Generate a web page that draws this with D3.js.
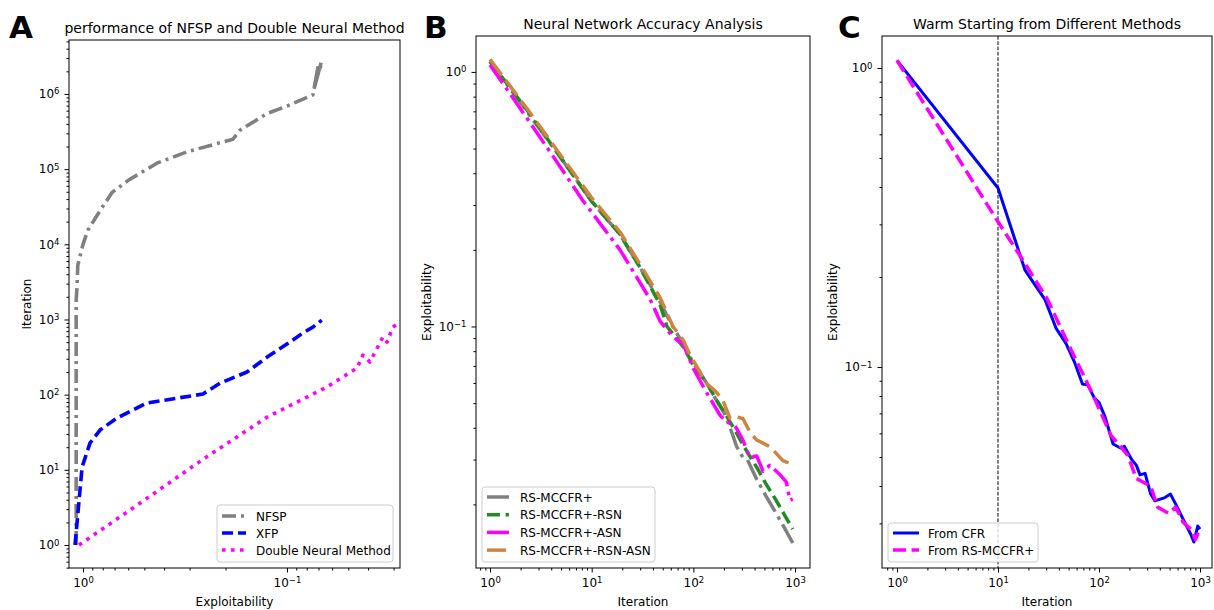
<!DOCTYPE html>
<html>
<head>
<meta charset="utf-8">
<script src="https://cdn.jsdelivr.net/npm/d3@7"></script>
<style>
body { margin: 0; background: #fff; }
text { font-family: "DejaVu Sans", sans-serif; fill: #000; }
</style>
</head>
<body>
<svg id="fig" width="1214" height="610"></svg>
<script>
// ---- panel A : exploitability (x) vs iteration (y)
var nfspExploit = [1.08, 1.08, 1.08, 1.08, 1.07, 1.06, 1.0, 0.945, 0.825, 0.72, 0.60, 0.434, 0.309, 0.184, 0.17, 0.125, 0.1, 0.0746,
                   0.0700, 0.0740, 0.0680, 0.0730, 0.0690, 0.0720, 0.0675];
var nfspIter = [1, 18, 390, 1800, 2700, 5300, 1.0e4, 1.55e4, 2.8e4, 4.9e4, 7.1e4, 1.2e5, 1.7e5, 2.5e5, 3.3e5, 5.5e5, 6.9e5, 9.7e5,
                2.5e6, 1.1e6, 2.6e6, 1.3e6, 2.4e6, 1.5e6, 2.6e6];
var xfpExploit = [1.094, 1.01, 0.924, 0.825, 0.681, 0.486, 0.258, 0.213, 0.157, 0.125, 0.0967, 0.0837, 0.0746, 0.0675];
var xfpIter = [1, 10.9, 22.7, 33.8, 48.9, 77.5, 102, 142, 200, 316, 500, 660, 790, 980];
var dnmExploit = [1.046, 0.569, 0.252, 0.125, 0.0638, 0.0453, 0.0424, 0.0392, 0.0338, 0.0323, 0.0302, 0.0285];
var dnmIter = [1, 3.1, 14.4, 50.3, 126, 226, 336, 272, 586, 500, 790, 890];

// ---- panel B : iteration vs exploitability
var bGrayIter = [1, 2.3, 4.6, 10, 19, 30, 47, 60, 80, 100, 135, 170, 200, 230, 267, 307, 340, 420, 520, 650, 800, 950];
var bGrayVal = [1.10, 0.70, 0.48, 0.31, 0.23, 0.17, 0.125, 0.103, 0.085, 0.072, 0.060, 0.051, 0.046, 0.040, 0.0337, 0.0306, 0.0300, 0.0251, 0.0215, 0.0185, 0.0160, 0.0141];
var bGreenIter = [1, 2.3, 4.6, 10, 19, 30, 47, 55, 80, 100, 135, 170, 220, 267, 340, 420, 520, 650, 800, 950];
var bGreenVal = [1.10, 0.71, 0.48, 0.31, 0.23, 0.17, 0.122, 0.10, 0.083, 0.0704, 0.060, 0.0512, 0.0435, 0.038, 0.032, 0.028, 0.024, 0.0208, 0.018, 0.016];
var bMagIter = [1, 2.3, 4.6, 8.2, 19, 37.5, 47, 59, 70, 79, 100, 135, 183, 214, 255, 307, 360, 420, 485, 565, 710, 820, 890, 950];
var bMagVal = [1.065, 0.66, 0.44, 0.312, 0.20, 0.128, 0.105, 0.094, 0.088, 0.0857, 0.0684, 0.055, 0.0448, 0.0421, 0.041, 0.0358, 0.0305, 0.031, 0.027, 0.0285, 0.0262, 0.0245, 0.0208, 0.021];
var bOrIter = [1, 2.3, 4.6, 10, 19, 30, 47, 63, 80, 93, 116, 125, 170, 195, 230, 270, 307, 360, 420, 485, 565, 650, 760, 890, 1000];
var bOrVal = [1.12, 0.72, 0.49, 0.32, 0.235, 0.175, 0.13, 0.10, 0.088, 0.077, 0.0664, 0.0614, 0.055, 0.0512, 0.0435, 0.044, 0.0435, 0.0385, 0.0358, 0.0348, 0.0337, 0.0318, 0.0297, 0.029, 0.0285];

// ---- panel C : warm start
var cCfrIter = [1, 10, 18.5, 29.2, 37.5, 47.1, 57.8, 68.6, 77.6, 90, 100, 115, 138, 163, 178, 212, 234, 255, 286, 325, 357, 450, 510, 575, 680, 810, 870, 950, 1000];
var cCfrVal = [1.06, 0.397, 0.211, 0.168, 0.135, 0.12, 0.103, 0.0877, 0.087, 0.0787, 0.0762, 0.068, 0.0553, 0.0536, 0.0543, 0.0489, 0.047, 0.0436, 0.0441, 0.0376, 0.0357, 0.0366, 0.0376, 0.0348, 0.031, 0.0276, 0.026, 0.0294, 0.0287];
var cRsIter = [1, 10, 16.9, 31, 53, 83, 131, 193, 234, 325, 380, 490, 575, 680, 810, 900, 1000];
var cRsVal = [1.06, 0.306, 0.233, 0.168, 0.114, 0.0837, 0.0592, 0.0507, 0.0424, 0.04, 0.034, 0.0324, 0.034, 0.0303, 0.0287, 0.0265, 0.0287];
var cWarmIter = 10;

var svg = d3.select("#fig");
svg.append("rect").attr("width", 1214).attr("height", 610).attr("fill", "#fff");

var supNum = function(v) {
  var e = Math.round(Math.log10(v));
  return e < 0 ? "\u2212" + (-e) : "" + e;
};

function minorTicks(dom) {
  var lo = Math.min(dom[0], dom[1]), hi = Math.max(dom[0], dom[1]);
  var out = [];
  for (var k = Math.floor(Math.log10(lo)); k <= Math.ceil(Math.log10(hi)); k++) {
    for (var m = 2; m < 10; m++) {
      var v = m * Math.pow(10, k);
      if (v >= lo && v <= hi) out.push(v);
    }
  }
  return out;
}

function powLabels(sel) {
  sel.selectAll(".tick text").each(function(d) {
    var t = d3.select(this).text(null);
    t.append("tspan").text("10");
    t.append("tspan").attr("dy", "-0.45em").attr("font-size", "8.5px").text(supNum(d));
  });
}

function drawPanel(p, idx) {
  var g = svg.append("g");
  var x = d3.scaleLog().domain(p.xDomain).range([p.left, p.right]);
  var y = d3.scaleLog().domain(p.yDomain).range([p.bottom, p.top]);

  g.append("clipPath").attr("id", "clip" + idx)
    .append("rect")
    .attr("x", p.left).attr("y", p.top)
    .attr("width", p.right - p.left).attr("height", p.bottom - p.top);

  // minor ticks
  g.append("g").attr("transform", "translate(0," + p.bottom + ")")
    .call(d3.axisBottom(x).tickValues(minorTicks(p.xDomain)).tickSize(2.5).tickFormat(""))
    .call(function(s) { s.select(".domain").remove(); });
  g.append("g").attr("transform", "translate(" + p.left + ",0)")
    .call(d3.axisLeft(y).tickValues(minorTicks(p.yDomain)).tickSize(2.5).tickFormat(""))
    .call(function(s) { s.select(".domain").remove(); });

  // major ticks
  var xa = g.append("g").attr("transform", "translate(0," + p.bottom + ")")
    .call(d3.axisBottom(x).tickValues(p.xTicks).tickSize(4.5).tickPadding(6))
    .call(function(s) { s.select(".domain").remove(); });
  xa.selectAll("text").attr("font-size", "12px").attr("font-family", "DejaVu Sans");
  powLabels(xa);
  var ya = g.append("g").attr("transform", "translate(" + p.left + ",0)")
    .call(d3.axisLeft(y).tickValues(p.yTicks).tickSize(4.5).tickPadding(5))
    .call(function(s) { s.select(".domain").remove(); });
  ya.selectAll("text").attr("font-size", "12px").attr("font-family", "DejaVu Sans");
  powLabels(ya);

  g.selectAll(".tick line").attr("stroke", "#000");

  // vertical marker line
  if (p.vline) {
    g.append("line")
      .attr("x1", x(p.vline)).attr("x2", x(p.vline))
      .attr("y1", p.top).attr("y2", p.bottom)
      .attr("stroke", "#000").attr("stroke-width", 1)
      .attr("stroke-dasharray", "3.7,1.6");
  }

  // series
  var line = d3.line().x(function(d) { return x(d[0]); }).y(function(d) { return y(d[1]); });
  p.series.forEach(function(s) {
    g.append("path")
      .datum(d3.zip(s.xs, s.ys))
      .attr("clip-path", "url(#clip" + idx + ")")
      .attr("d", line)
      .attr("fill", "none")
      .attr("stroke", s.color)
      .attr("stroke-width", s.width)
      .attr("stroke-dasharray", s.dash)
      .attr("stroke-linejoin", "round");
  });

  // frame
  g.append("rect")
    .attr("x", p.left).attr("y", p.top)
    .attr("width", p.right - p.left).attr("height", p.bottom - p.top)
    .attr("fill", "none").attr("stroke", "#000").attr("stroke-width", 1);

  // legend
  var lg = p.legend;
  g.append("rect")
    .attr("x", lg.x).attr("y", lg.y).attr("width", lg.w).attr("height", lg.h)
    .attr("rx", 3).attr("fill", "#fff").attr("fill-opacity", 0.8)
    .attr("stroke", "#ccc").attr("stroke-width", 1);
  p.series.forEach(function(s, i) {
    var cy = lg.y + lg.first + i * lg.step;
    g.append("line")
      .attr("x1", lg.x + lg.pad).attr("x2", lg.x + lg.pad + lg.len)
      .attr("y1", cy).attr("y2", cy)
      .attr("stroke", s.color).attr("stroke-width", s.width)
      .attr("stroke-dasharray", s.dash);
    g.append("text")
      .attr("x", lg.x + lg.pad + lg.len + lg.gap).attr("y", cy + 4.5)
      .attr("font-size", "12px")
      .text(s.name);
  });

  // titles and labels
  g.append("text")
    .attr("x", (p.left + p.right) / 2).attr("y", p.top - 7)
    .attr("text-anchor", "middle").attr("font-size", "14px")
    .text(p.title);
  g.append("text")
    .attr("x", (p.left + p.right) / 2).attr("y", 606)
    .attr("text-anchor", "middle").attr("font-size", "12px")
    .text(p.xLabel);
  g.append("text")
    .attr("transform", "translate(" + p.yLabelX + "," + ((p.top + p.bottom) / 2) + ") rotate(-90)")
    .attr("text-anchor", "middle").attr("font-size", "12px")
    .text(p.yLabel);
  g.append("text")
    .attr("x", p.letterX).attr("y", 38)
    .attr("font-family", "Liberation Sans, Arial, sans-serif")
    .attr("font-weight", "bold").attr("font-size", "31px")
    .text(p.letter);
}

var panels = [
  {
    letter: "A", letterX: 9,
    left: 69, right: 400, top: 40, bottom: 568,
    xDomain: [1.171, 0.0279], yDomain: [Math.pow(10, -0.306), Math.pow(10, 6.718)],
    xTicks: [1, 0.1], yTicks: [1, 10, 100, 1e3, 1e4, 1e5, 1e6],
    title: "performance of NFSP and Double Neural Method",
    xLabel: "Exploitability", yLabel: "Iteration", yLabelX: 31,
    series: [
      {name: "NFSP", xs: nfspExploit, ys: nfspIter, color: "#808080", width: 3.6, dash: "14,5,3,5"},
      {name: "XFP", xs: xfpExploit, ys: xfpIter, color: "#0000ff", width: 3.6, dash: "11,5"},
      {name: "Double Neural Method", xs: dnmExploit, ys: dnmIter, color: "#ff00ff", width: 3.6, dash: "3.6,5.4"}
    ],
    legend: {x: 217, y: 505, w: 176, h: 57, first: 11, step: 17, pad: 5, len: 24, gap: 10}
  },
  {
    letter: "B", letterX: 424,
    left: 476, right: 810, top: 36, bottom: 568,
    xDomain: [0.728, 1404], yDomain: [0.01125, 1.384],
    xTicks: [1, 10, 100, 1000], yTicks: [0.1, 1],
    title: "Neural Network Accuracy Analysis",
    xLabel: "Iteration", yLabel: "Exploitability", yLabelX: 431,
    series: [
      {name: "RS-MCCFR+", xs: bGrayIter, ys: bGrayVal, color: "#808080", width: 3.5, dash: "22,5.6,3.5,5.6"},
      {name: "RS-MCCFR+-RSN", xs: bGreenIter, ys: bGreenVal, color: "#228b22", width: 3.5, dash: "13,5.6"},
      {name: "RS-MCCFR+-ASN", xs: bMagIter, ys: bMagVal, color: "#ff00ff", width: 3.5, dash: "22,5.6,3.5,5.6"},
      {name: "RS-MCCFR+-RSN-ASN", xs: bOrIter, ys: bOrVal, color: "#cd853f", width: 3.5, dash: "19,7"}
    ],
    legend: {x: 482, y: 487, w: 173, h: 75, first: 10, step: 17.7, pad: 5, len: 22, gap: 11}
  },
  {
    letter: "C", letterX: 838,
    left: 882, right: 1212, top: 36, bottom: 568,
    xDomain: [0.7105, 1315], yDomain: [Math.pow(10, -1.672), Math.pow(10, 0.107)],
    xTicks: [1, 10, 100, 1000], yTicks: [0.1, 1],
    title: "Warm Starting from Different Methods",
    xLabel: "Iteration", yLabel: "Exploitability", yLabelX: 837,
    vline: cWarmIter,
    series: [
      {name: "From CFR", xs: cCfrIter, ys: cCfrVal, color: "#0000ff", width: 3, dash: null},
      {name: "From RS-MCCFR+", xs: cRsIter, ys: cRsVal, color: "#ff00ff", width: 3.5, dash: "13,5.6"}
    ],
    legend: {x: 888, y: 523, w: 150, h: 39, first: 10, step: 17, pad: 5, len: 26, gap: 9}
  }
];

panels.forEach(function(p, i) { drawPanel(p, i); });
</script>
</body>
</html>
